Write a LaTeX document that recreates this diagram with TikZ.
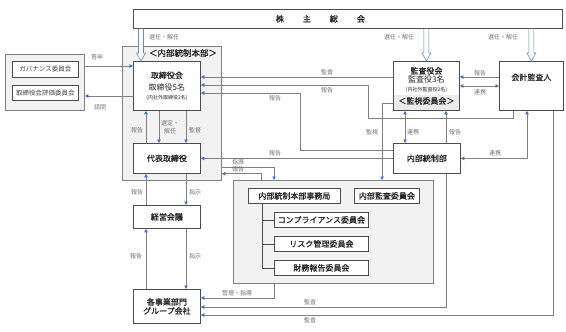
\documentclass[tikz,border=0pt]{standalone}
\usepackage{fontspec}
\setmainfont{Noto Sans CJK JP}[AutoFakeBold=1]
\usetikzlibrary{arrows.meta,calc}

\definecolor{tipblue}{RGB}{68,114,196}
\definecolor{hollowblue}{RGB}{105,140,190}
\colorlet{linegray}{black!50}
\colorlet{boxline}{black!70}

\newcommand{\smallnote}{\mdseries\fontsize{5}{6}\selectfont}
% hollow election arrow: #1 top point, #2 tip
\newcommand{\electarrow}[2]{%
  \draw[hollow] ($(#1)+(-2.5pt,0pt)$) -- ($(#2)+(-2.5pt,8pt)$) -- ($(#2)+(-4.5pt,8pt)$)
    -- (#2) -- ($(#2)+(4.5pt,8pt)$) -- ($(#2)+(2.5pt,8pt)$) -- ($(#1)+(2.5pt,0pt)$);}

\tikzset{
  box/.style={draw=boxline, fill=white, line width=0.8pt, anchor=north west, inner sep=0pt,
    align=center, text=black!85, font=\fontsize{8}{9}\selectfont\bfseries},
  subbox/.style={draw=boxline, fill=white, line width=0.8pt, anchor=north west, inner sep=0pt,
    text=black!75, font=\fontsize{6.5}{8}\selectfont},
  region/.style={draw=black!50, fill=black!5, line width=0.8pt, anchor=north west, inner sep=0pt},
  title/.style={inner sep=0pt, text=black!85, font=\fontsize{8.5}{10}\selectfont\bfseries},
  band/.style={path picture={\fill[black!8] ([yshift=15pt]path picture bounding box.south west)
    rectangle (path picture bounding box.south east);}},
  arr/.style={draw=linegray, line width=0.9pt, -{Triangle[length=3.5pt,width=3.5pt,color=tipblue]}},
  arrs/.style={draw=linegray, line width=0.9pt,
    {Triangle[length=3.5pt,width=3.5pt,color=tipblue]}-{Triangle[length=3.5pt,width=3.5pt,color=tipblue]}},
  tree/.style={draw=boxline, line width=0.8pt},
  hollow/.style={draw=hollowblue, fill=white, line width=0.6pt},
  lbl/.style={inner sep=0pt, align=center, text=black!55, font=\fontsize{6}{8}\selectfont},
}

\begin{document}
\begin{tikzpicture}[x=1pt, y=-1pt]
  \useasboundingbox (0,0) rectangle (566,332);

  % regions
  \node[region, minimum width=79pt, minimum height=56pt] (gov) at (5,54) {};
  \node[region, minimum width=99pt, minimum height=134pt] (hq) at (122,46) {};
  \node[region, minimum width=200pt, minimum height=103pt] (sec) at (233,180) {};
  \node[title] (hqtitle) at (183,53) {＜内部統制本部＞};

  % boxes
  \node[box, minimum width=429pt, minimum height=19pt] (gm) at (133,9)
    {株\hskip19pt 主\hskip19pt 総\hskip19pt 会\kern55pt};
  \node[subbox, minimum width=66pt, minimum height=16pt] (gov1) at (12,61) {ガバナンス委員会};
  \node[subbox, minimum width=66pt, minimum height=15pt] (gov2) at (12,85) {取締役会評価委員会};
  \node[box, minimum width=67pt, minimum height=49pt] (brd) at (133,61)
    {取締役会\\[3pt]{\mdseries 取締役5名}\\{\smallnote (内社外取締役2名)}};
  \node[box, minimum width=67pt, minimum height=30pt] (ceo) at (133,143) {代表取締役};
  \node[box, minimum width=67pt, minimum height=23pt] (mgt) at (133,205) {経営会議};
  \node[box, minimum width=67pt, minimum height=34pt] (biz) at (133,289) {各事業部門\\グループ会社};
  \node[box, band, minimum width=66pt, minimum height=49pt] (kan) at (393,61)
    {監査役会\\{\mdseries 監査役3名}\\{\smallnote (内社外監査役2名)}\\[3pt]＜監視委員会＞};
  \node[box, minimum width=64pt, minimum height=49pt] (acc) at (499,61) {会計監査人\\[9pt]\mbox{}};
  \node[box, minimum width=67pt, minimum height=30pt] (icd) at (393,143) {内部統制部};
  \node[box, minimum width=92pt, minimum height=15pt] (office) at (248,188) {内部統制本部事務局};
  \node[box, minimum width=65pt, minimum height=15pt] (iac) at (354,188) {内部監査委員会};
  \node[box, minimum width=94pt, minimum height=15pt] (cmp) at (274,212) {コンプライアンス委員会};
  \node[box, minimum width=94pt, minimum height=15pt] (risk) at (274,236) {リスク管理委員会};
  \node[box, minimum width=94pt, minimum height=15pt] (fin) at (274,260) {財務報告委員会};

  % connectors
  \draw[arr] ($(gov.north east)+(0,12)$) -- ($(brd.north west)+(0,5)$);
  \draw[arr] ($(brd.north west)+(0,35)$) -- ($(gov.north east)+(0,42)$);
  \draw[arr] ($(kan.north west)+(0,16)$) -- ($(brd.north east)+(0,16)$);
  \draw[arr] ($(acc.south west)+(14,0)$) |- (368,118) |- ($(brd.north east)+(0,24)$);
  \draw[arr] ($(icd.north west)+(0,7)$) -| (300,93) -- ($(brd.north east)+(0,32)$);
  \draw[arr] ($(kan.south west)+(0,-7)$) -| ($(sec.north west)+(149,0)$);
  \draw[arr] (icd.west) -- (ceo.east);
  \draw[arr] ($(ceo.north west)+(13,0)$) -- ($(brd.south west)+(13,0)$);
  \draw[arr] ($(brd.south west)+(26,0)$) -- ($(ceo.north west)+(26,0)$);
  \draw[arr] ($(brd.south west)+(53,0)$) -- ($(ceo.north west)+(53,0)$);
  \draw[arr] ($(mgt.north west)+(13,0)$) -- ($(ceo.south west)+(13,0)$);
  \draw[arr] ($(ceo.south west)+(53,0)$) -- ($(mgt.north west)+(53,0)$);
  \draw[arr] ($(biz.north west)+(13,0)$) -- ($(mgt.south west)+(13,0)$);
  \draw[arr] ($(mgt.south west)+(53,0)$) -- ($(biz.north west)+(53,0)$);
  \draw[arr] ($(hq.south east)+(0,-13)$) -| ($(sec.north west)+(41,0)$);
  \draw[arr] ($(sec.north west)+(28,0)$) |- ($(hq.south east)+(0,-7)$);
  \draw[arr] ($(sec.south west)+(41,0)$) |- ($(biz.north east)+(0,9)$);
  \draw[arr] ($(icd.south west)+(53,0)$) |- ($(biz.north east)+(0,18)$);
  \draw[arr] ($(acc.south east)+(-10,0)$) |- ($(biz.north east)+(0,26)$);
  \draw[arr] ($(acc.north west)+(0,16)$) -- ($(kan.north east)+(0,16)$);
  \draw[arrs] ($(kan.north east)+(0,25)$) -- ($(acc.north west)+(0,25)$);
  \draw[arrs] ($(kan.south west)+(12,0)$) -- ($(icd.north west)+(12,0)$);
  \draw[arr] ($(icd.north west)+(53,0)$) -- ($(kan.south west)+(53,0)$);
  \draw[arrs] (icd.east) -| ($(acc.south west)+(28,0)$);
  \draw[tree] ($(office.south west)+(14,0)$) |- (cmp.west)
    ($(office.south west)+(14,0)$) |- (risk.west)
    ($(office.south west)+(14,0)$) |- (fin.west);

  % election arrows from the general meeting
  \coordinate (e1) at ($(brd.north west)+(8,0)$);
  \electarrow{gm.south -| e1}{e1}
  \electarrow{gm.south -| kan.north}{kan.north}
  \electarrow{gm.south -| acc.north}{acc.north}

  % labels
  \foreach \px/\py/\txt [count=\i] in {164/37/選任・解任, 399/37/選任・解任, 503/37/選任・解任,
      97/57/答申, 100/107/諮問, 327/72/監査, 327/90/報告, 275/98/報告, 372/132/監視,
      137/130/報告, 170/127/{選定・\\解任}, 195/130/監督, 275/153/報告,
      238/162/指導, 238/169/報告, 137/192/報告, 195/192/指示, 136/256/報告, 195/256/指示,
      237/293/管理・指導, 310/302/監査, 310/320/監査, 480/73/報告, 480/92/連携,
      413/132/連携, 455/132/報告, 495/153/連携}
    \node[lbl] (lbl\i) at (\px,\py) {\txt};
\end{tikzpicture}
\end{document}
